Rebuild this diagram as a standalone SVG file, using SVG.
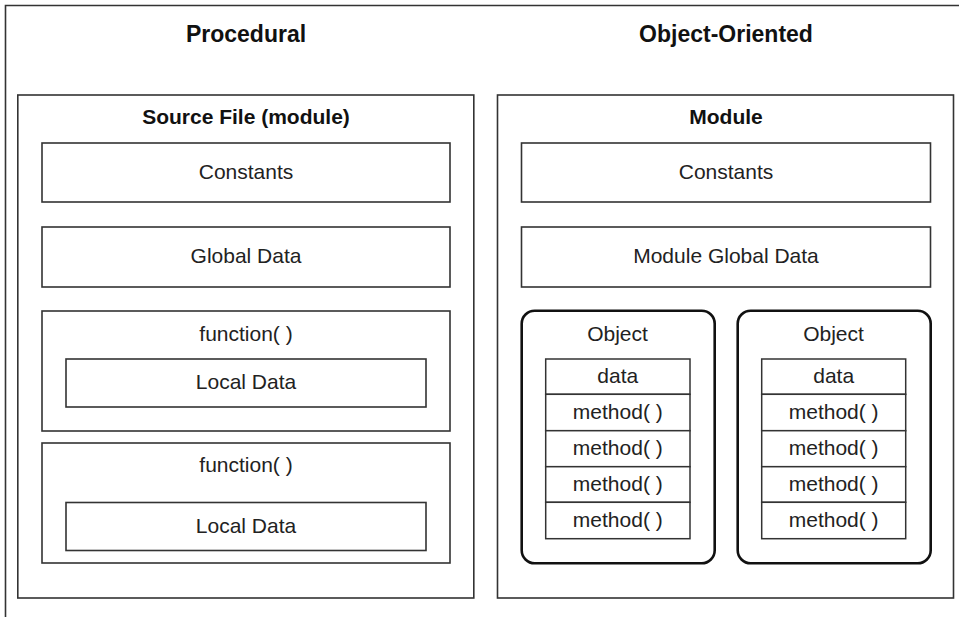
<svg xmlns="http://www.w3.org/2000/svg" width="959" height="617" viewBox="0 0 959 617">
<style>
.box{fill:#fff;stroke:#333;stroke-width:1.6}
.obj{fill:#fff;stroke:#111;stroke-width:2.6}
.cell{fill:#fff;stroke:#333;stroke-width:1.5}
.t{font-family:"Liberation Sans",Arial,sans-serif;font-size:21px;fill:#222;text-anchor:middle}
.h{font-family:"Liberation Sans",Arial,sans-serif;font-size:23px;font-weight:bold;fill:#111;text-anchor:middle}
.hb{font-family:"Liberation Sans",Arial,sans-serif;font-size:21px;font-weight:bold;fill:#111;text-anchor:middle}
</style>
<rect x="0" y="0" width="959" height="617" fill="#fff"/>
<path d="M5.5 617 V5.5 H959" fill="none" stroke="#333" stroke-width="1.6"/>
<g id="title-procedural"><text class="h" x="246" y="42">Procedural</text></g>
<g id="title-oo"><text class="h" x="726" y="42">Object-Oriented</text></g>

<g id="source-file">
<rect class="box" x="17.8" y="95" width="456" height="503"/>
<text class="hb" x="246" y="124">Source File (module)</text>
</g>
<g id="constants-left">
<rect class="box" x="42" y="143" width="408" height="59"/>
<text class="t" x="246" y="179">Constants</text>
</g>
<g id="global-data">
<rect class="box" x="42" y="227" width="408" height="60"/>
<text class="t" x="246" y="263">Global Data</text>
</g>
<g id="function1">
<rect class="box" x="42" y="311" width="408" height="120"/>
<text class="t" x="246" y="341">function( )</text>
</g>
<g id="local-data1">
<rect class="box" x="66" y="359" width="360" height="48"/>
<text class="t" x="246" y="389">Local Data</text>
</g>
<g id="function2">
<rect class="box" x="42" y="443" width="408" height="120"/>
<text class="t" x="246" y="472">function( )</text>
</g>
<g id="local-data2">
<rect class="box" x="66" y="502.5" width="360" height="48"/>
<text class="t" x="246" y="533">Local Data</text>
</g>

<g id="module">
<rect class="box" x="497.5" y="95" width="456" height="503"/>
<text class="hb" x="726" y="124">Module</text>
</g>
<g id="constants-right">
<rect class="box" x="521.5" y="143" width="409" height="59"/>
<text class="t" x="726" y="179">Constants</text>
</g>
<g id="module-global-data">
<rect class="box" x="521.5" y="227" width="409" height="60"/>
<text class="t" x="726" y="263">Module Global Data</text>
</g>

<g id="object1">
<rect class="obj" x="521.7" y="310.7" width="193" height="252.6" rx="13"/>
<text class="t" x="617.5" y="341">Object</text>
<rect class="cell" x="545.7" y="359" width="144.3" height="35.3"/>
<rect class="cell" x="545.7" y="394.3" width="144.3" height="36.4"/>
<rect class="cell" x="545.7" y="430.7" width="144.3" height="36"/>
<rect class="cell" x="545.7" y="466.7" width="144.3" height="35.6"/>
<rect class="cell" x="545.7" y="502.3" width="144.3" height="36.4"/>
<text class="t" x="617.8" y="383">data</text>
<text class="t" x="617.8" y="419">method( )</text>
<text class="t" x="617.8" y="455">method( )</text>
<text class="t" x="617.8" y="491">method( )</text>
<text class="t" x="617.8" y="527">method( )</text>
</g>
<g id="object2">
<rect class="obj" x="737.7" y="310.7" width="193" height="252.6" rx="13"/>
<text class="t" x="833.5" y="341">Object</text>
<rect class="cell" x="761.7" y="359" width="144" height="35.3"/>
<rect class="cell" x="761.7" y="394.3" width="144" height="36.4"/>
<rect class="cell" x="761.7" y="430.7" width="144" height="36"/>
<rect class="cell" x="761.7" y="466.7" width="144" height="35.6"/>
<rect class="cell" x="761.7" y="502.3" width="144" height="36.4"/>
<text class="t" x="833.7" y="383">data</text>
<text class="t" x="833.7" y="419">method( )</text>
<text class="t" x="833.7" y="455">method( )</text>
<text class="t" x="833.7" y="491">method( )</text>
<text class="t" x="833.7" y="527">method( )</text>
</g>
<g id="connectors"></g>
</svg>
